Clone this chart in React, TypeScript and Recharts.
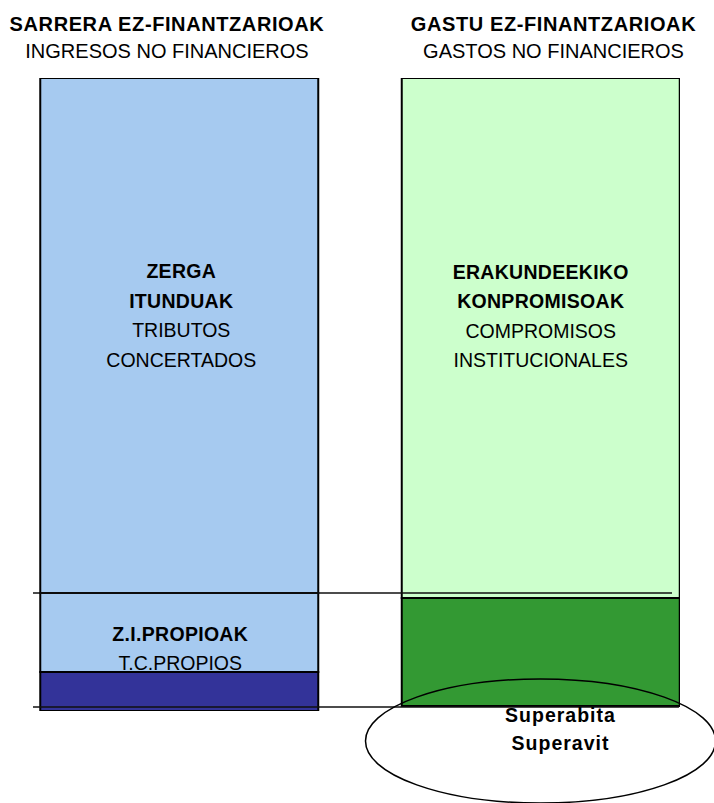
import React from 'react';
import { BarChart, Bar, XAxis, YAxis, ReferenceLine, ReferenceDot } from 'recharts';

// ---- data (share of total non-financial income, %) ----
const sides = [0, 1];
const titlesEu = ['SARRERA EZ-FINANTZARIOAK', 'GASTU EZ-FINANTZARIOAK'];
const titlesEs = ['INGRESOS NO FINANCIEROS', 'GASTOS NO FINANCIEROS'];

const otrosIngresos = [6.16, 0];
const tributosPropios = [12.48, 0];
const tributosConcertados = [81.36, 0];
const superavit = [0, 0.79];
const otrosGastos = [0, 17.06];
const compromisos = [0, 82.15];

const guideLevels = [18.64, 0.63];

const labelsConcertados = [
  { text: 'ZERGA', bold: true },
  { text: 'ITUNDUAK', bold: true },
  { text: 'TRIBUTOS', bold: false },
  { text: 'CONCERTADOS', bold: false },
];
const labelsCompromisos = [
  { text: 'ERAKUNDEEKIKO', bold: true },
  { text: 'KONPROMISOAK', bold: true },
  { text: 'COMPROMISOS', bold: false },
  { text: 'INSTITUCIONALES', bold: false },
];
const labelsPropios = [
  { text: 'Z.I.PROPIOAK', bold: true },
  { text: 'T.C.PROPIOS', bold: false },
];
const superavitLabels = ['Superabita', 'Superavit'];

const data = sides.map((pos, i) => ({
  pos,
  otrosIngresos: otrosIngresos[i],
  tributosPropios: tributosPropios[i],
  tributosConcertados: tributosConcertados[i],
  superavit: superavit[i],
  otrosGastos: otrosGastos[i],
  compromisos: compromisos[i],
}));

// ---- layout / style ----
const W = 714;
const H = 803;
const X_MIN = -0.4039;
const X_MAX = 1.3859;
const TOP_LINE_END = 1.3638;
const BOTTOM_LINE_END = 1.383;
const FONT = "'Liberation Sans', Arial, sans-serif";
const FS = 19.5;
const TITLE_DX = [-12, 13];

const TitleTick = (props: any) => {
  const { x, payload } = props;
  const i = Math.round(Number(payload.value));
  const cx = x + TITLE_DX[i];
  return (
    <g>
      <text x={cx} y={31} textAnchor="middle" fontFamily={FONT} fontSize={20} fontWeight="bold" letterSpacing={0.6} fill="#000">
        {titlesEu[i]}
      </text>
      <text x={cx} y={58} textAnchor="middle" fontFamily={FONT} fontSize={20} fill="#000">
        {titlesEs[i]}
      </text>
    </g>
  );
};

const makeLabel = (lines: { text: string; bold: boolean }[], firstDy: number, step: number, dx: number) =>
  (p: any) => {
    const vb = p.viewBox || p;
    const x = vb.x ?? p.x;
    const y = vb.y ?? p.y;
    const width = vb.width ?? p.width;
    const height = vb.height ?? p.height;
    if (!height || Math.abs(height) < 1) return null;
    const top = Math.min(y, y + height);
    const cx = x + width / 2 + dx;
    const cy = top + Math.abs(height) / 2;
    return (
      <g>
        {lines.map((l, k) => (
          <text
            key={k}
            x={cx}
            y={cy + firstDy + k * step}
            textAnchor="middle"
            fontFamily={FONT}
            fontSize={FS}
            fontWeight={l.bold ? 'bold' : 'normal'}
            letterSpacing={l.bold ? 0.3 : 0}
            fill="#000"
          >
            {l.text}
          </text>
        ))}
      </g>
    );
  };

const SuperavitShape = (props: any) => {
  const { cx, cy } = props;
  return (
    <g>
      {superavitLabels.map((t, k) => (
        <text key={k} x={cx + 20} y={cy + 11 + k * 28} textAnchor="middle" fontFamily={FONT} fontSize={FS} fontWeight="bold" letterSpacing={1} fill="#000">
          {t}
        </text>
      ))}
      <ellipse cx={cx} cy={cy + 30} rx={175} ry={62} fill="none" stroke="#000" strokeWidth={1.5} />
    </g>
  );
};

export default function App() {
  return (
    <div style={{ position: 'absolute', left: 0, top: 0, width: W, height: H, overflow: 'hidden', background: '#fff' }}>
      <BarChart width={W} height={H} data={data} margin={{ top: 8, right: 34, bottom: 92, left: 33 }} barSize={278}>
        <XAxis
          type="number"
          dataKey="pos"
          orientation="top"
          domain={[X_MIN, X_MAX]}
          ticks={[0, 1]}
          interval={0}
          allowDataOverflow
          tick={<TitleTick />}
          tickLine={false}
          axisLine={false}
          height={70}
        />
        <YAxis hide type="number" domain={[0, 100]} allowDataOverflow />
        <Bar dataKey="otrosIngresos" stackId="a" fill="#333399" stroke="#000" strokeWidth={2} isAnimationActive={false} />
        <Bar
          dataKey="tributosPropios"
          stackId="a"
          fill="#A6CAF0"
          stroke="#000"
          strokeWidth={2}
          isAnimationActive={false}
          label={makeLabel(labelsPropios, 8.5, 29, 1)}
        />
        <Bar
          dataKey="tributosConcertados"
          stackId="a"
          fill="#A6CAF0"
          stroke="#000"
          strokeWidth={2}
          isAnimationActive={false}
          label={makeLabel(labelsConcertados, -57.5, 29.5, 2)}
        />
        <Bar dataKey="superavit" stackId="a" fill="none" stroke="none" isAnimationActive={false} />
        <Bar dataKey="otrosGastos" stackId="a" fill="#339933" stroke="#000" strokeWidth={2} isAnimationActive={false} />
        <Bar
          dataKey="compromisos"
          stackId="a"
          fill="#CCFFCC"
          stroke="#000"
          strokeWidth={2}
          isAnimationActive={false}
          label={makeLabel(labelsCompromisos, -59, 29.3, 0)}
        />
        <ReferenceLine
          segment={[{ x: X_MIN, y: guideLevels[0] }, { x: TOP_LINE_END, y: guideLevels[0] }]}
          stroke="#111"
          strokeWidth={1.5}
          ifOverflow="visible"
        />
        <ReferenceLine
          segment={[{ x: X_MIN, y: guideLevels[1] }, { x: BOTTOM_LINE_END, y: guideLevels[1] }]}
          stroke="#111"
          strokeWidth={1.5}
          ifOverflow="visible"
        />
        <ReferenceDot x={1} y={0} ifOverflow="visible" shape={<SuperavitShape />} />
      </BarChart>
    </div>
  );
}
